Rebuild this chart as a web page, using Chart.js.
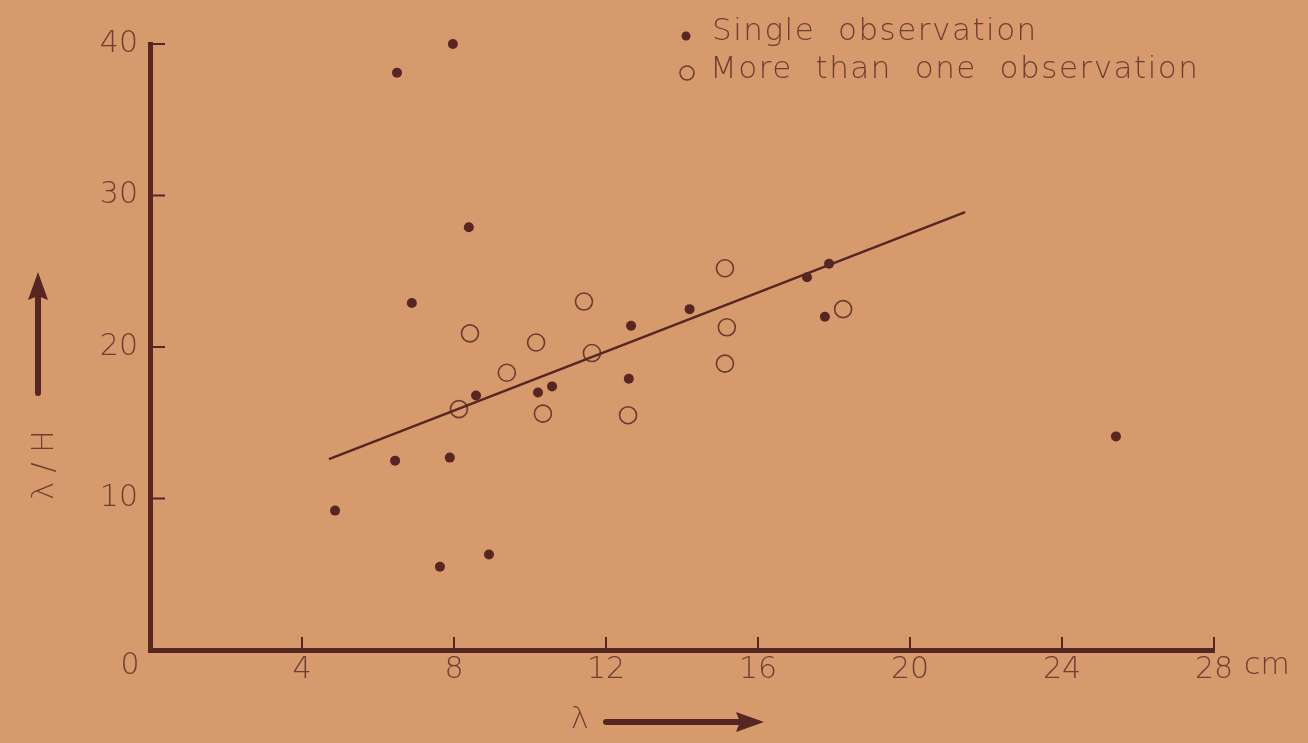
<!DOCTYPE html>
<html><head><meta charset="utf-8">
<script src="https://cdn.jsdelivr.net/npm/chart.js@4"></script>
<style>html,body{margin:0;padding:0;background:#d69a6c;}canvas{display:block}</style>
</head><body>
<canvas id="c" width="1308" height="743"></canvas>
<script>
// Single observations (filled dots)
const singleX = [6.5, 7.97, 6.89, 8.39, 8.58, 6.45, 7.89, 4.87, 7.63, 8.92, 10.21, 10.58, 12.66, 12.6, 14.2, 17.29, 17.87, 17.76, 25.42];
const singleY = [38.1, 40.0, 22.9, 27.9, 16.8, 12.5, 12.7, 9.2, 5.5, 6.3, 17.0, 17.4, 21.4, 17.9, 22.5, 24.6, 25.5, 22.0, 14.1];
// More than one observation (open circles)
const multiX = [8.42, 9.39, 8.13, 10.16, 11.42, 11.63, 10.34, 12.58, 15.13, 15.18, 15.13, 18.24];
const multiY = [20.9, 18.3, 15.9, 20.3, 23.0, 19.6, 15.6, 15.5, 25.2, 21.3, 18.9, 22.5];
// Fitted line end points
const fitX = [4.71, 21.45];
const fitY = [12.6, 28.9];
// Axes
const xTicks = [0, 4, 8, 12, 16, 20, 24, 28];
const yTicks = [0, 10, 20, 30, 40];
const legendLabels = ['Single  observation', 'More  than  one  observation'];
const xTitle = 'λ';
const yTitle = 'λ / H';
const xUnit = 'cm';

const INK = '#552624';
const TEXT = '#6e3e33';
const FONT = '"DejaVu Sans", sans-serif';
Chart.defaults.font.family = FONT;

const toPts = (xs, ys) => xs.map((x, i) => ({x, y: ys[i]}));

const decor = {
  id: 'decor',
  afterDraw(chart) {
    const {ctx, scales: {x, y}} = chart;
    const x0 = x.getPixelForValue(0), y0 = y.getPixelForValue(0);
    ctx.save();
    ctx.strokeStyle = INK;
    ctx.lineWidth = 2;
    // inward ticks
    xTicks.forEach(v => { if (v === 0) return; const px = x.getPixelForValue(v);
      ctx.beginPath(); ctx.moveTo(px, y0); ctx.lineTo(px, y0 - 13); ctx.stroke(); });
    yTicks.forEach(v => { if (v === 0) return; const py = y.getPixelForValue(v);
      ctx.beginPath(); ctx.moveTo(x0, py); ctx.lineTo(x0 + 15, py); ctx.stroke(); });
    // origin label and unit
    ctx.fillStyle = TEXT;
    ctx.font = '200 30px ' + FONT;
    ctx.textBaseline = 'middle';
    ctx.textAlign = 'center';
    ctx.fillText('0', x0 - 20, y0 + 16);
    ctx.textAlign = 'left';
    ctx.fillText(xUnit, x.getPixelForValue(28) + 30, y0 + 16);
    // x title + arrow
    ctx.textAlign = 'center';
    ctx.fillText(xTitle, 580, 720);
    ctx.lineWidth = 6; ctx.lineCap = 'round';
    ctx.beginPath(); ctx.moveTo(606, 722); ctx.lineTo(742, 722); ctx.stroke();
    ctx.beginPath(); ctx.moveTo(764, 722); ctx.lineTo(736, 712); ctx.lineTo(740, 722); ctx.lineTo(736, 732); ctx.closePath(); ctx.fillStyle = INK; ctx.fill();
    // y title + arrow
    ctx.fillStyle = TEXT;
    ctx.save();
    ctx.translate(45, 465); ctx.rotate(-Math.PI / 2);
    ctx.textAlign = 'center'; ctx.fillText(yTitle, 0, 0);
    ctx.restore();
    ctx.beginPath(); ctx.moveTo(38, 393); ctx.lineTo(38, 292); ctx.stroke();
    ctx.beginPath(); ctx.moveTo(38, 272); ctx.lineTo(28, 300); ctx.lineTo(38, 296); ctx.lineTo(48, 300); ctx.closePath(); ctx.fillStyle = INK; ctx.fill();
    // legend
    ctx.font = '200 31px ' + FONT;
    try { ctx.letterSpacing = '1.5px'; } catch (e) {}
    ctx.fillStyle = INK;
    ctx.beginPath(); ctx.arc(686, 36, 4.5, 0, Math.PI * 2); ctx.fill();
    ctx.strokeStyle = TEXT; ctx.lineWidth = 1.6;
    ctx.beginPath(); ctx.arc(687, 73, 7, 0, Math.PI * 2); ctx.stroke();
    ctx.fillStyle = TEXT; ctx.textAlign = 'left';
    ctx.fillText(legendLabels[0], 712, 32);
    ctx.fillText(legendLabels[1], 710, 70);
    ctx.restore();
  }
};

new Chart(document.getElementById('c'), {
  type: 'scatter',
  data: {
    datasets: [
      { type: 'line', data: toPts(fitX, fitY), borderColor: INK, borderWidth: 2.5, pointRadius: 0, fill: false, clip: false },
      { data: toPts(singleX, singleY), backgroundColor: INK, borderColor: INK, borderWidth: 0, pointRadius: 5, clip: false },
      { data: toPts(multiX, multiY), backgroundColor: 'rgba(0,0,0,0)', borderColor: '#6b3a31', borderWidth: 1.6, pointRadius: 8.5, clip: false }
    ]
  },
  options: {
    responsive: false,
    animation: false,
    layout: { padding: { left: 0, right: 94, top: 44, bottom: 0 } },
    plugins: { legend: { display: false }, tooltip: { enabled: false } },
    scales: {
      x: {
        type: 'linear', min: 0, max: 28,
        afterFit(s) { s.height = 93; },
        afterBuildTicks(s) { s.ticks = xTicks.map(v => ({value: v})); },
        grid: { display: true, drawOnChartArea: false, drawTicks: false },
        border: { display: true, color: INK, width: 5 },
        ticks: { color: TEXT, font: { size: 30, weight: 200 }, padding: 2,
                 callback: v => v === 0 ? '' : String(v) }
      },
      y: {
        type: 'linear', min: 0, max: 40,
        afterFit(s) { s.width = 150; },
        afterBuildTicks(s) { s.ticks = yTicks.map(v => ({value: v})); },
        grid: { display: true, drawOnChartArea: false, drawTicks: false },
        border: { display: true, color: INK, width: 5 },
        ticks: { color: TEXT, font: { size: 30, weight: 200 }, padding: 12,
                 callback: v => v === 0 ? '' : String(v) }
      }
    }
  },
  plugins: [decor]
});
</script>
</body></html>
